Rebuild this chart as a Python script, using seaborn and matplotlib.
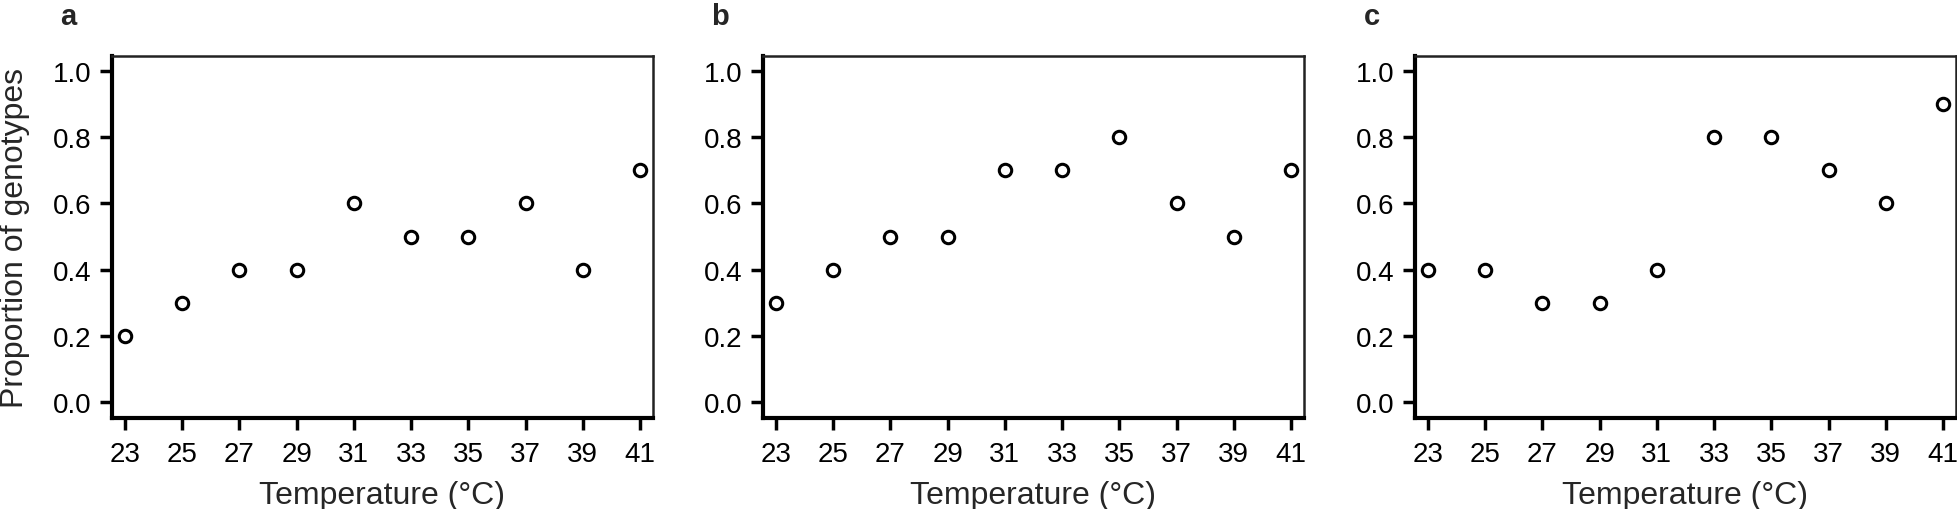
import numpy as np
import pandas as pd
import seaborn as sns
import matplotlib
matplotlib.use("Agg")
import matplotlib.pyplot as plt

# data
temps = [23, 25, 27, 29, 31, 33, 35, 37, 39, 41]
prop_a = [0.2, 0.3, 0.4, 0.4, 0.6, 0.5, 0.5, 0.6, 0.4, 0.7]
prop_b = [0.3, 0.4, 0.5, 0.5, 0.7, 0.7, 0.8, 0.6, 0.5, 0.7]
prop_c = [0.4, 0.4, 0.3, 0.3, 0.4, 0.8, 0.8, 0.7, 0.6, 0.9]
panel_letters = ["a", "b", "c"]
y_ticks = [0.0, 0.2, 0.4, 0.6, 0.8, 1.0]

sns.set_style("white")
plt.rcParams["font.family"] = ["Liberation Sans", "DejaVu Sans"]

fig = plt.figure(figsize=(19.58, 5.10), dpi=100)

lefts = [112 / 1958, 763 / 1958, 1415 / 1958]
bottom = (510 - 419) / 510
width = 541 / 1958
height = 362 / 510

for i, (letter, vals) in enumerate(zip(panel_letters, [prop_a, prop_b, prop_c])):
    ax = fig.add_axes([lefts[i], bottom, width, height])
    df = pd.DataFrame({"temp": temps, "prop": vals})
    sns.scatterplot(data=df, x="temp", y="prop", ax=ax, s=80,
                    facecolor="white", edgecolor="black", linewidth=2.2,
                    zorder=3)
    ax.set_xlim(22.55, 41.45)
    ax.set_ylim(-0.048, 1.045)
    ax.set_xticks(temps)
    ax.set_yticks(y_ticks)
    ax.set_yticklabels([f"{t:.1f}" for t in y_ticks])

    for side in ["left", "bottom"]:
        ax.spines[side].set_linewidth(3.0)
        ax.spines[side].set_color("black")
    for side in ["top", "right"]:
        ax.spines[side].set_linewidth(1.8)
        ax.spines[side].set_color("#222222")

    ax.tick_params(axis="both", which="major", direction="out", length=8.3,
                   width=2.5, color="black", labelsize=20, labelcolor="black",
                   left=True, bottom=True)
    ax.tick_params(axis="x", pad=8)
    ax.tick_params(axis="y", pad=6.5)

    ax.set_xlabel("Temperature (°C)", fontsize=23)
    ax.xaxis.set_label_coords(0.5, -0.172)
    if i == 0:
        ax.set_ylabel("Proportion of genotypes", fontsize=23)
        ax.yaxis.set_label_coords(-0.152, 0.5)
    else:
        ax.set_ylabel("")

    ax.text(-0.095, 1.088, letter, transform=ax.transAxes, fontsize=21,
            fontweight="bold", ha="left", va="baseline")

fig.savefig("out.png", dpi=100)
